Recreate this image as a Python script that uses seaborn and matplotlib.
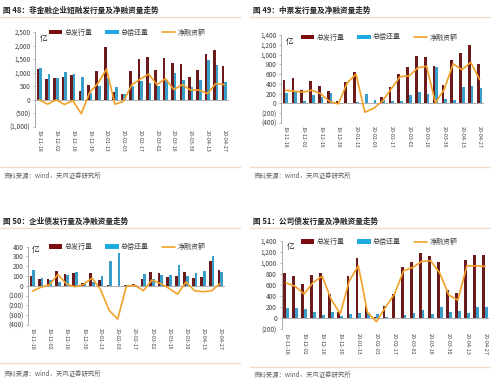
import numpy as np
import pandas as pd
import matplotlib
matplotlib.use("Agg")
import matplotlib.pyplot as plt
import seaborn as sns
from matplotlib.patches import Patch
from matplotlib.lines import Line2D
from matplotlib.ticker import FuncFormatter, MultipleLocator

sns.set_style("white")
plt.rcParams['font.family'] = ['Noto Sans CJK SC', 'DejaVu Sans']

dates = ["19-11-18", "19-11-25", "19-12-02", "19-12-09", "19-12-16", "19-12-23",
         "19-12-30", "20-01-06", "20-01-13", "20-01-20", "20-02-03", "20-02-10",
         "20-02-17", "20-02-24", "20-03-02", "20-03-09", "20-03-16", "20-03-23",
         "20-03-30", "20-04-06", "20-04-13", "20-04-20", "20-04-27"]

series_names = ["总发行量", "总偿还量", "净融资额"]

titles = ["图 48：非金融企业短融发行量及净融资量走势",
          "图 49：中票发行量及净融资量走势",
          "图 50：企业债发行量及净融资量走势",
          "图 51：公司债发行量及净融资量走势"]
source = "资料来源：wind，天风证券研究所"
unit = "亿"

issue48 = [1140, 765, 805, 840, 930, 322, 565, 1075, 1940, 290, 225, 1075, 1505, 1590, 1100, 1555, 1355, 1310, 850, 1110, 1690, 1855, 1240]
repay48 = [1170, 950, 810, 1020, 950, 830, 250, 500, 790, 480, 230, 510, 700, 630, 520, 720, 1000, 740, 490, 740, 1480, 1270, 660]
net48 = [0, -160, 0, -170, -30, -510, 270, 620, 1130, -160, -60, 550, 760, 950, 560, 780, 380, 560, 360, 360, 230, 600, 560]

issue49 = [480, 525, 285, 450, 365, 250, 50, 430, 640, 0, 0, 140, 345, 595, 740, 975, 950, 760, 380, 880, 1030, 1190, 810]
repay49 = [205, 225, 60, 175, 140, 210, 10, 0, 30, 185, 80, 80, 55, 45, 175, 240, 185, 745, 95, 65, 335, 350, 320]
net49 = [270, 250, 230, 270, 200, 40, -10, 420, 600, -180, -100, 50, 300, 550, 560, 730, 760, 10, 290, 810, 690, 840, 490]

issue50 = [100, 75, 65, 155, 125, 130, 32, 130, 55, 7, 0, 8, 20, 68, 137, 130, 90, 96, 140, 80, 92, 258, 165]
repay50 = [160, 85, 55, 35, 110, 140, 17, 40, 97, 258, 335, 12, 12, 118, 75, 108, 113, 212, 98, 130, 155, 305, 140]
net50 = [-55, -15, 10, 115, 20, -10, 15, 80, -40, -250, -340, -5, 5, -50, 60, 25, -25, -85, 40, -50, -60, -50, 25]

issue51 = [826, 765, 612, 777, 826, 446, 116, 758, 1083, 226, 25, 214, 446, 936, 1022, 1187, 1126, 1016, 514, 453, 1064, 1150, 1145]
repay51 = [190, 190, 171, 122, 55, 110, 43, 73, 104, 100, 73, 24, 12, 67, 92, 153, 86, 196, 110, 128, 92, 205, 205]
net51 = [640, 580, 440, 650, 760, 340, 80, 680, 950, 110, -60, 200, 440, 860, 920, 1030, 1040, 820, 420, 330, 950, 950, 940]

RED = "#7B0C10"
BLUE = "#1FA9E1"
ORANGE = "#F2A128"
LINE_C = "#F3DDC2"
TXT = "#404040"

W, H = 500, 385
fig = plt.figure(figsize=(W / 100, H / 100), dpi=100)
fig.patch.set_facecolor("white")


def fx(px):
    return px / W


def fy(py):
    return 1 - py / H


def fmt(v, pos=None):
    if v < 0:
        return f"({abs(v):,.0f})"
    return f"{v:,.0f}"


panels = [
    dict(issue=issue48, repay=repay48, net=net48, box=(35, 228.5, 32, 127), ylim=(-1000, 2500), step=500,
         ox=0, ty=10, tl=17, bl=167, sy=176, ly=32.5, lx=49, ux=40, uy=39),
    dict(issue=issue49, repay=repay49, net=net49, box=(281, 484, 35, 123), ylim=(-400, 1400), step=200,
         ox=250, ty=10, tl=17, bl=167, sy=176, ly=37.5, lx=301, ux=286, uy=42),
    dict(issue=issue50, repay=repay50, net=net50, box=(28, 224.5, 246.7, 325), ylim=(-400, 400), step=100,
         ox=0, ty=221, tl=228, bl=363, sy=374, ly=247, lx=49, ux=32, uy=250),
    dict(issue=issue51, repay=repay51, net=net51, box=(281.5, 489.5, 241, 329.3), ylim=(-200, 1400), step=200,
         ox=250, ty=221, tl=228, bl=367, sy=375, ly=242, lx=301, ux=287, uy=247),
]

for i, p in enumerate(panels):
    l, r, t, b = p["box"]
    ax = fig.add_axes([fx(l), fy(b), fx(r - l), (b - t) / H])
    n = len(dates)
    df = pd.DataFrame({
        "date": dates * 2,
        "kind": [series_names[0]] * n + [series_names[1]] * n,
        "value": p["issue"] + p["repay"],
    })
    sns.barplot(data=df, x="date", y="value", hue="kind", order=dates,
                hue_order=series_names[:2], palette=[RED, BLUE],
                width=0.62, gap=0, linewidth=0, legend=False, ax=ax, zorder=2)
    sns.lineplot(x=np.arange(n), y=p["net"], color=ORANGE, linewidth=1.2,
                 ax=ax, zorder=3, legend=False)
    ax.set_xlim(-0.5, n - 0.5)
    ax.set_ylim(*p["ylim"])
    ax.yaxis.set_major_locator(MultipleLocator(p["step"]))
    ax.yaxis.set_major_formatter(FuncFormatter(fmt))
    ax.set_xticks(range(0, n, 2))
    ax.set_xticklabels(dates[::2], rotation=-90, fontsize=3.9, color=TXT)
    ax.tick_params(axis="x", length=0, pad=2.5)
    ax.tick_params(axis="y", labelsize=4.6, labelcolor=TXT, length=1.8, width=0.5,
                   color="#A0A0A0", pad=1.5, direction="out", left=True)
    ax.set_xlabel("")
    ax.set_ylabel("")
    for s in ["top", "right", "bottom"]:
        ax.spines[s].set_visible(False)
    ax.spines["left"].set_color("#A0A0A0")
    ax.spines["left"].set_linewidth(0.6)
    ax.axhline(0, color="#A0A0A0", linewidth=0.6, zorder=1)
    ax.set_facecolor("none")

    handles = [Patch(facecolor=RED, edgecolor="none"),
               Patch(facecolor=BLUE, edgecolor="none"),
               Line2D([0], [0], color=ORANGE, linewidth=1.2)]
    fig.legend(handles, series_names, loc="center left",
               bbox_to_anchor=(fx(p["lx"]), fy(p["ly"])), ncol=3, frameon=False,
               fontsize=5, handlelength=1.9, handleheight=0.55, handletextpad=0.3,
               columnspacing=1.9, borderpad=0, borderaxespad=0, labelcolor=TXT)

    fig.text(fx(p["ux"]), fy(p["uy"]), unit, fontsize=5.5, color="#222222",
             ha="left", va="center")

    ox = p["ox"]
    fig.text(fx(ox + 3), fy(p["ty"]), titles[i], fontsize=5.5, fontweight="bold",
             color="#222222", ha="left", va="center")
    fig.add_artist(Line2D([fx(ox), fx(ox + 240)], [fy(p["tl"]), fy(p["tl"])],
                          color=LINE_C, linewidth=1.0))
    fig.add_artist(Line2D([fx(ox), fx(ox + 240)], [fy(p["bl"]), fy(p["bl"])],
                          color=LINE_C, linewidth=1.0))
    fig.text(fx(ox + 4), fy(p["sy"]), source, fontsize=4.6, color="#606060",
             ha="left", va="center")

fig.savefig("out.png", dpi=100, facecolor="white")
